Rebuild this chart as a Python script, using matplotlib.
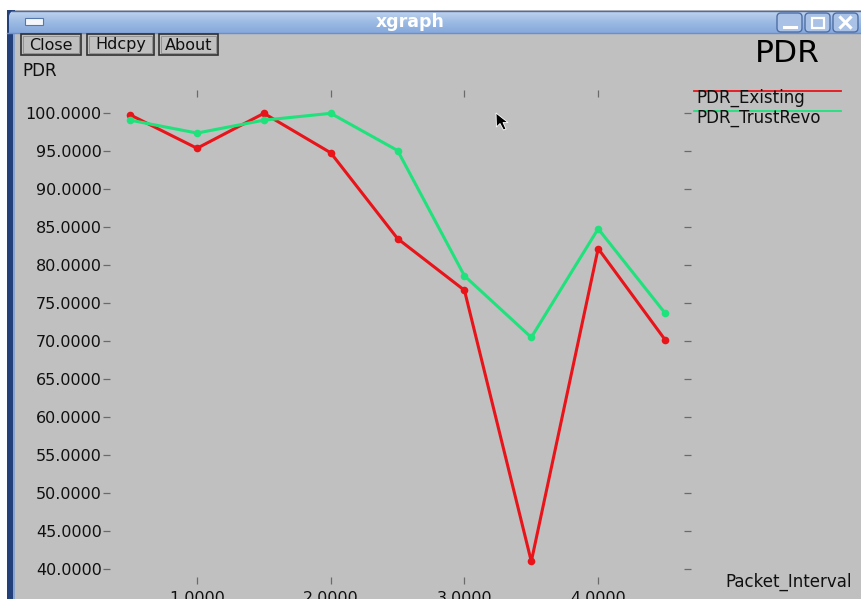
import matplotlib
matplotlib.use("Agg")
import matplotlib.pyplot as plt
import numpy as np
from matplotlib.patches import Rectangle, FancyBboxPatch, Polygon

plt.rcParams['font.family'] = ['DejaVu Sans']

# ---- data -------------------------------------------------------------
packet_interval = [0.5, 1.0, 1.5, 2.0, 2.5, 3.0, 3.5, 4.0, 4.5]
pdr_existing = [99.8, 95.4, 100.0, 94.8, 83.5, 76.7, 41.0, 82.2, 70.2]
pdr_trustrevo = [99.1, 97.4, 99.1, 100.0, 95.1, 78.6, 70.5, 84.8, 73.7]
series_names = ["PDR_Existing", "PDR_TrustRevo"]
series_colors = ["#e8141a", "#1fe27c"]
x_ticks = [1.0, 2.0, 3.0, 4.0]
y_ticks = [40, 45, 50, 55, 60, 65, 70, 75, 80, 85, 90, 95, 100]
window_title = "xgraph"
buttons = ["Close", "Hdcpy", "About"]
plot_title = "PDR"
y_label = "PDR"
x_label = "Packet_Interval"

W, H = 861, 599
BG = "#c0c0c0"
fig = plt.figure(figsize=(W / 100, H / 100), dpi=100)
fig.patch.set_facecolor(BG)

# ---- window frame (pixel coordinates, y downwards) ---------------------
chrome = fig.add_axes([0, 0, 1, 1], zorder=0)
chrome.set_xlim(0, W)
chrome.set_ylim(H, 0)
chrome.axis("off")
chrome.add_patch(Rectangle((0, 0), W, 10, color="white", lw=0))
chrome.add_patch(Rectangle((0, 0), 7, H, color="white", lw=0))
chrome.add_patch(Rectangle((7, 10), 8, H, color="#23407a", lw=0))
chrome.add_patch(Rectangle((13, 33), 2, H, color="#8aa4cc", lw=0))

# title bar gradient
grad = np.linspace(0, 1, 40).reshape(-1, 1)
bar = chrome.imshow(grad, extent=[7, W + 5, 33, 10], cmap=matplotlib.colors.LinearSegmentedColormap.from_list(
    "tb", ["#c4d6ef", "#9dbbe4", "#86a9dc"]), aspect="auto", zorder=1)
clip = FancyBboxPatch((9, 11), W, 30, boxstyle="round,pad=0,rounding_size=6",
                      transform=chrome.transData, facecolor="none", edgecolor="none")
chrome.add_patch(clip)
bar.set_clip_path(clip)
chrome.plot([12, W], [10.5, 10.5], color="#4a6ea8", lw=1, zorder=2)
chrome.plot([7, W], [32.5, 32.5], color="#6f8fc4", lw=1, zorder=2)
chrome.add_patch(Rectangle((25, 18), 18, 7, facecolor="#f4f6fb", edgecolor="#5577aa", lw=0.8, zorder=3))
chrome.text(410, 22, window_title, color="white", fontsize=12.5, fontweight="bold",
            ha="center", va="center", zorder=3)

# minimise / maximise / close buttons
for i, x0 in enumerate([777, 805, 833]):
    chrome.add_patch(FancyBboxPatch((x0, 13), 25, 19, boxstyle="round,pad=0,rounding_size=4",
                                    facecolor="#a9c2e6", edgecolor="#4d6fa6", lw=1, zorder=3))
    cx = x0 + 12.5
    if i == 0:
        chrome.plot([cx - 6, cx + 6], [27, 27], color="white", lw=2.2, zorder=4)
    elif i == 1:
        chrome.add_patch(Rectangle((cx - 6, 17.5), 12, 10, facecolor="none", edgecolor="white", lw=1.6, zorder=4))
    else:
        chrome.plot([cx - 5, cx + 5], [17.5, 27.5], color="white", lw=2.2, zorder=4)
        chrome.plot([cx - 5, cx + 5], [27.5, 17.5], color="white", lw=2.2, zorder=4)

# xgraph command buttons
for (x0, x1), label in zip([(21, 81), (87, 154), (159, 218)], buttons):
    chrome.add_patch(Rectangle((x0, 34), x1 - x0, 21, facecolor="none", edgecolor="#303030", lw=1.2, zorder=3))
    chrome.add_patch(Rectangle((x0 + 2, 36), x1 - x0 - 4, 17, facecolor="none", edgecolor="#8c8c8c", lw=0.6, zorder=3))
    chrome.text((x0 + x1) / 2, 45, label, fontsize=11.5, ha="center", va="center", color="#101010", zorder=4)

# mouse pointer
chrome.add_patch(Polygon([(496, 113), (496.5, 127), (500, 123.5), (503.5, 130), (506, 129),
                          (503, 122.5), (508, 122.5)], closed=True,
                         facecolor="black", edgecolor="white", lw=0.6, zorder=5))

# texts around the plot
chrome.text(22, 71, y_label, fontsize=12, ha="left", va="center", color="#101010", zorder=3)
chrome.text(787, 54, plot_title, fontsize=22.5, ha="center", va="center", color="black", zorder=3)
chrome.text(725, 582, x_label, fontsize=12, ha="left", va="center", color="#101010", zorder=3)

# legend: coloured line with the set name underneath
for k, (name, col) in enumerate(zip(series_names, series_colors)):
    yl = 91 + 20 * k
    chrome.plot([694, 841], [yl, yl], color=col, lw=1.3, zorder=3)
    chrome.text(696, yl + 7, name, fontsize=12, ha="left", va="center", color="#101010", zorder=3)

# ---- data area ------------------------------------------------------
L, R, T, B = 110, 684, 97, 577
ax = fig.add_axes([L / W, 1 - B / H, (R - L) / W, (B - T) / H], zorder=1)
ax.set_facecolor("none")
ax.set_xlim(0.349, 4.642)
ax.set_ylim(38.95, 102.15)
for s in ax.spines.values():
    s.set_visible(False)

for ys, col in zip([pdr_existing, pdr_trustrevo], series_colors):
    ax.plot(packet_interval, ys, color=col, lw=2.2, marker="o", ms=5.5,
            markeredgewidth=0, clip_on=False)

ax.set_xticks(x_ticks)
ax.set_xticklabels([f"{v:.4f}" for v in x_ticks])
ax.set_yticks(y_ticks)
ax.set_yticklabels([f"{v:.4f}" for v in y_ticks])
ax.tick_params(axis="x", top=True, bottom=True, direction="out", length=5, width=0.9,
               color="#6a6a6a", labelsize=11.5, pad=5, labelcolor="#101010")
ax.tick_params(axis="y", left=True, right=True, direction="out", length=5, width=0.9,
               color="#6a6a6a", labelsize=11.5, pad=1, labelcolor="#101010")

fig.savefig("out.png", dpi=100, facecolor=BG)
